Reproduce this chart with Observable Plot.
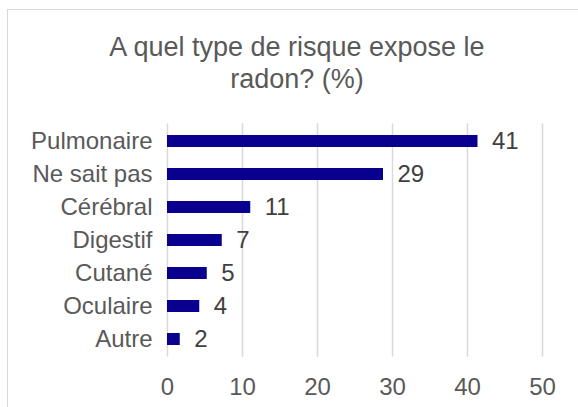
<!DOCTYPE html>
<html>
<head>
<meta charset="utf-8">
<script src="https://cdn.jsdelivr.net/npm/d3@7"></script>
<script src="https://cdn.jsdelivr.net/npm/@observablehq/plot@0.6"></script>
<style>
  html, body { margin: 0; padding: 0; background: #fff; }
  #wrap { position: relative; width: 578px; height: 407px; overflow: hidden; background: #fff; font-family: "Liberation Sans", Arial, sans-serif; }
  #frame { position: absolute; left: 7px; top: 9px; width: 600px; height: 420px; border: 1px solid #d9d9d9; box-sizing: border-box; }
  #title { position: absolute; left: 7px; width: 580px; top: 32px; text-align: center; font-size: 27px; line-height: 31.6px; color: #595959; }
  #chart { position: absolute; left: 0; top: 0; }
</style>
</head>
<body>
<div id="wrap">
  <div id="frame"></div>
  <div id="chart"></div>
  <div id="title">A quel type de risque expose le<br>radon? (%)</div>
</div>
<script>
const categories = ["Pulmonaire", "Ne sait pas", "Cérébral", "Digestif", "Cutané", "Oculaire", "Autre"];
const values = [41.4, 28.8, 11.1, 7.3, 5.3, 4.3, 1.7];
const valueLabels = ["41", "29", "11", "7", "5", "4", "2"];
const xTicks = [0, 10, 20, 30, 40, 50];

const data = categories.map((c, i) => ({ category: c, value: values[i], label: valueLabels[i] }));

const chart = Plot.plot({
  width: 578,
  height: 407,
  marginLeft: 167,
  marginRight: 36,
  marginTop: 123.35,
  marginBottom: 50.35,
  style: { fontFamily: "'Liberation Sans', Arial, sans-serif", fontSize: "24px", background: "transparent", overflow: "visible" },
  x: { domain: [0, 50], ticks: xTicks, label: null },
  y: { domain: categories, paddingInner: 0.64, paddingOuter: 0.32, label: null },
  marks: [
    Plot.ruleX(xTicks, { stroke: "#d9d9d9", strokeWidth: 1.5 }),
    Plot.barX(data, { y: "category", x: "value", fill: "#0a0090" }),
    Plot.text(data, { y: "category", x: "value", text: "label", textAnchor: "start", dx: 14, fill: "#404040", fontSize: 24 }),
    Plot.axisX({ ticks: xTicks, tickSize: 0, tickPadding: 21, fill: "#595959", fontSize: 24, label: null }),
    Plot.axisY({ tickSize: 0, tickPadding: 15, fill: "#595959", fontSize: 24, label: null })
  ]
});
document.getElementById("chart").appendChild(chart);
</script>
</body>
</html>
